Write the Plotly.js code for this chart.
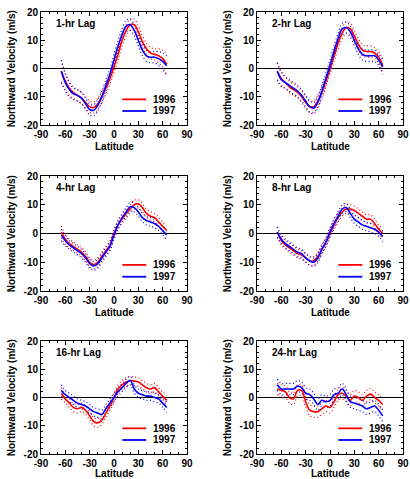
<!DOCTYPE html>
<html>
<head>
<meta charset="utf-8">
<script src="https://cdn.plot.ly/plotly-3.0.1.min.js"></script>
<style>html,body{margin:0;padding:0;background:#fff;}#chart{width:410px;height:479px;}</style>
</head>
<body>
<div id="chart"></div>
<script>
// Latitude grid (degrees)
const lat = [-65,-60,-55,-50,-45,-40,-35,-30,-25,-20,-15,-10,-5,0,5,10,15,20,25,30,35,40,45,50,55,60,65];

// Tick labels
const xTicks = [-90,-60,-30,0,30,60,90];
const yTicks = [-20,-10,0,10,20];
const panelLabels = ['1-hr Lag','2-hr Lag','4-hr Lag','8-hr Lag','16-hr Lag','24-hr Lag'];
const seriesNames = ['1996','1997'];

// 1-hr lag
const v96_1 = [-1,-4.5,-7,-8.5,-9.5,-10.5,-12,-13.5,-13.8,-12.5,-10,-7,-3.5,0.5,5,10,13.5,15.5,15.5,13,9.5,7,5.5,5,4.5,3.5,1.5];
const v97_1 = [-1,-5,-7.5,-9,-9.5,-10.5,-12.5,-14.5,-14.8,-13,-10,-6,-2,3,8,12,15,15.5,13.5,10,6.5,4.5,4,4,3.5,2.5,1];
const e_1   = [4,3,2.5,2,2,2,2,2,2,2,2,2,2,2,2,2,2,2,2,2,2,2,2,2,2.5,3,3.5];

// 2-hr lag
const v96_2 = [-1,-3.5,-5,-6.5,-7.5,-8.5,-10,-12,-13.5,-13.5,-11.5,-8.5,-4.5,0,4.5,9,12.5,14.5,14,11.5,8.5,6.5,6,6,5.5,4,1];
const v97_2 = [-1,-4,-5,-6,-7,-8,-9.5,-11.5,-13.5,-14,-12,-8,-3.5,1,6,10.5,14,14.5,13,10,7,5,4.5,4.5,4.5,3,0.5];
const e_2   = [3,2.5,2,2,2,2,2,2,2,2,2,2,2,2,2,2,2,2,2,2,2,2,2,2,2,2,2.5];

// 4-hr lag
const v96_4 = [0.5,-2,-3.5,-4.5,-5.5,-6.5,-8,-10,-10.8,-10,-8,-6,-4,0,3,5,7,8.5,10,10.3,9,7,6,5.5,4,2.5,1];
const v97_4 = [-0.5,-2.5,-4,-5,-6,-7,-8.5,-10.5,-11.3,-10.5,-8.5,-6.5,-4.5,-0.5,3,5.5,7.5,9.3,9,7.5,5.5,4.5,4,3.5,2.5,1,-0.5];
const e_4   = [2,1.8,1.5,1.5,1.5,1.5,1.5,1.5,1.5,1.5,1.5,1.5,1.5,1.5,1.5,1.5,1.5,1.5,1.5,1.5,1.5,1.5,1.5,1.5,1.5,1.5,1.8];

// 8-hr lag
const v96_8 = [0.5,-2.5,-4,-5,-6,-7,-7.5,-8.5,-9.5,-9.5,-8,-5.5,-3,0,3,5.5,7.5,8.5,8.5,8,7,6,5,5,3.5,1.5,0];
const v97_8 = [0.5,-2,-3.5,-4.5,-5.5,-6.5,-7,-8.5,-9.5,-10,-8.5,-5.5,-3,0.5,3.5,6,8.5,9,7,5,4,3,2.5,2,1.5,0.5,-1];
const e_8   = [1.8,1.5,1.5,1.5,1.5,1.5,1.5,1.5,1.5,1.5,1.5,1.5,1.5,1.5,1.5,1.5,1.5,1.5,1.5,1.5,1.5,1.5,1.5,1.5,1.5,1.5,1.8];

// 16-hr lag
const v96_16 = [1.5,-0.5,-2,-3.5,-4,-3.5,-4.5,-6.5,-8.5,-9,-8,-5.5,-3,0,3,4.5,5.5,6,5.8,5.5,4.5,3.5,3,3.5,2,0.5,-1];
const v97_16 = [2.5,1,0,-1,-2,-2.5,-3,-4,-5,-5.5,-6,-4,-2,0,2,3.5,5,6,3,1.5,1,0.5,0.5,0,-0.5,-2,-3.5];
const e_16   = [2,1.5,1.5,1.5,1.5,1.5,1.5,1.5,1.5,1.5,1.5,1.5,1.5,1.5,1.5,1.5,1.5,1.5,1.5,1.5,1.5,1.5,1.5,1.5,1.5,1.5,1.8];

// 24-hr lag
const v96_24 = [3,2.5,2,0,-0.5,2.5,2.5,-1.5,-4.5,-5,-5,-4,-3,-3.5,-1.5,1,1.5,0.5,-1,0.5,0,-1,0.5,1.2,0,-1,-2.5];
const v97_24 = [4.5,3,3,3,3,4,3.5,1.5,1,-0.5,-2.5,-1,-1.5,-1,1,1.5,3,1,-1.5,-2,-2.5,-3,-4,-3.5,-3,-4.5,-6.5];
const e_24   = [2,2,2,2,2,2,2,2,2,2,2,2,2,2,2,2,2,2,2,2,2,2,2,2,2,2,2];

const v96 = [v96_1, v96_2, v96_4, v96_8, v96_16, v96_24];
const v97 = [v97_1, v97_2, v97_4, v97_8, v97_16, v97_24];
const errs = [e_1, e_2, e_4, e_8, e_16, e_24];

const RED = '#ff0000', BLUE = '#0000ff';
const FONT = 'Liberation Sans, Arial, Helvetica, sans-serif';

// subplot boxes (pixels)
const W = 410, H = 479;
const cols = [[41,187],[257,403]];
const rows = [[12,125],[176,291],[341,454]];

const traces = [];
const layout = {
  width: W, height: H,
  margin: {l:0, r:0, t:0, b:0},
  paper_bgcolor: '#fff', plot_bgcolor: '#fff',
  showlegend: false,
  font: {family: FONT, size: 10, color: '#000', weight: 'bold'},
  annotations: [], shapes: []
};

for (let i = 0; i < 6; i++) {
  const n = i + 1;
  const xa = n === 1 ? 'x' : 'x' + n;
  const ya = n === 1 ? 'y' : 'y' + n;
  const c = cols[i % 2], r = rows[Math.floor(i / 2)];
  const e = errs[i];
  const series = [[v96[i], RED], [v97[i], BLUE]];
  series.forEach(([v, col]) => {
    traces.push({x: lat, y: v.map((d, k) => d + e[k]), xaxis: xa, yaxis: ya, mode: 'lines',
      line: {color: col, width: 1.2, dash: '1px,2.5px', shape: 'spline'}, hoverinfo: 'skip'});
    traces.push({x: lat, y: v.map((d, k) => d - e[k]), xaxis: xa, yaxis: ya, mode: 'lines',
      line: {color: col, width: 1.2, dash: '1px,2.5px', shape: 'spline'}, hoverinfo: 'skip'});
  });
  series.forEach(([v, col], s) => {
    traces.push({x: lat, y: v, xaxis: xa, yaxis: ya, mode: 'lines', name: seriesNames[s],
      line: {color: col, width: 1.6, shape: 'spline'}});
  });

  const common = {
    showline: true, linecolor: '#000', linewidth: 1, mirror: 'ticks',
    ticks: 'inside', ticklen: 4, tickwidth: 1, tickcolor: '#000',
    showgrid: false, fixedrange: true,
    tickfont: {family: FONT, size: 10, color: '#000', weight: 'bold'}
  };
  layout['xaxis' + (n === 1 ? '' : n)] = Object.assign({}, common, {
    domain: [c[0] / W, c[1] / W], anchor: ya, range: [-90, 90],
    tickmode: 'array', tickvals: xTicks, ticktext: xTicks.map(String), zeroline: false,
    minor: {ticks: 'inside', dtick: 10, ticklen: 2, tickcolor: '#000'}
  });
  layout['yaxis' + (n === 1 ? '' : n)] = Object.assign({}, common, {
    domain: [1 - r[1] / H, 1 - r[0] / H], anchor: xa, range: [-20, 20],
    tickmode: 'array', tickvals: yTicks, ticktext: yTicks.map(String),
    zeroline: true, zerolinecolor: '#000', zerolinewidth: 1.5,
    minor: {ticks: 'inside', dtick: 2, ticklen: 2, tickcolor: '#000'}
  });

  const xd = xa + ' domain', yd = ya + ' domain';
  const latY = Math.floor(i / 2) === 2 ? -0.17 : -0.19;
  layout.annotations.push(
    {xref: xd, yref: yd, x: 0.09, y: 0.9, xanchor: 'left', yanchor: 'middle', showarrow: false,
     text: panelLabels[i], font: {family: FONT, size: 10, weight: 'bold'}},
    {xref: xd, yref: yd, x: -0.2, y: 0.5, xanchor: 'center', yanchor: 'middle', showarrow: false,
     textangle: -90, text: 'Northward Velocity (m/s)', font: {family: FONT, size: 10, weight: 'bold'}},
    {xref: xd, yref: yd, x: 0.5, y: latY, xanchor: 'center', yanchor: 'middle', showarrow: false,
     text: 'Latitude', font: {family: FONT, size: 10, weight: 'bold'}},
    {xref: xd, yref: yd, x: 0.75, y: 0.227, xanchor: 'left', yanchor: 'middle', showarrow: false,
     text: seriesNames[0], font: {family: FONT, size: 10, weight: 'bold'}},
    {xref: xd, yref: yd, x: 0.75, y: 0.124, xanchor: 'left', yanchor: 'middle', showarrow: false,
     text: seriesNames[1], font: {family: FONT, size: 10, weight: 'bold'}}
  );
  layout.shapes.push(
    {type: 'line', xref: xd, yref: yd, x0: 0.557, x1: 0.721, y0: 0.227, y1: 0.227, line: {color: RED, width: 1.8}},
    {type: 'line', xref: xd, yref: yd, x0: 0.557, x1: 0.721, y0: 0.124, y1: 0.124, line: {color: BLUE, width: 1.8}}
  );
}

Plotly.newPlot('chart', traces, layout, {staticPlot: true, displayModeBar: false});
</script>
</body>
</html>
